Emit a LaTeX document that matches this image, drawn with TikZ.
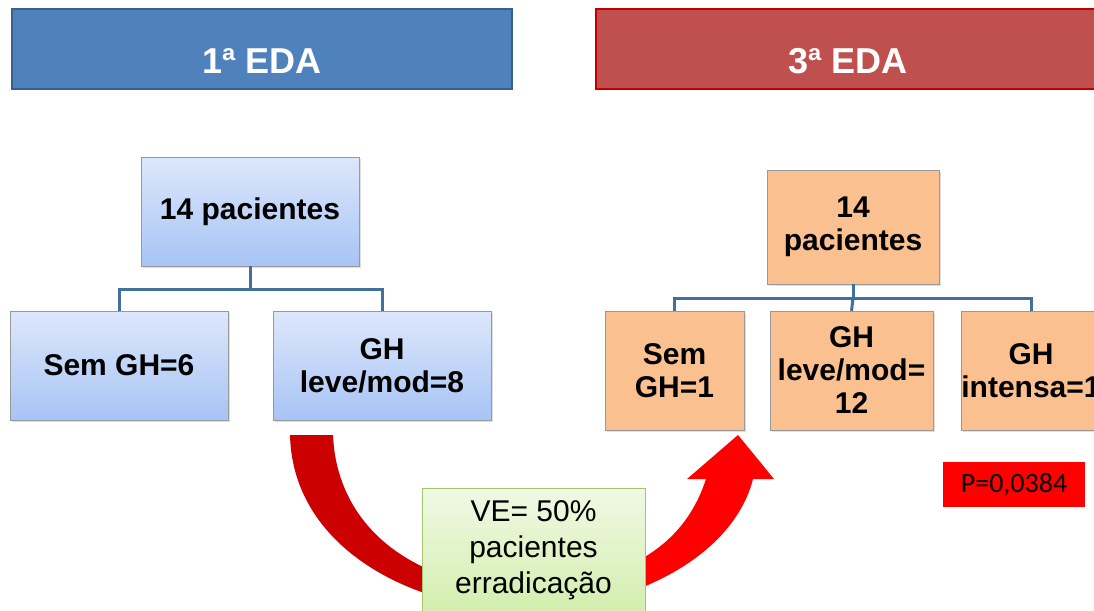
\documentclass[tikz,border=0pt]{standalone}
\usepackage{fontspec}
\setmainfont{Liberation Sans}
\newfontfamily\pfont{Carlito}
\usetikzlibrary{shadows}
\definecolor{hdrblue}{HTML}{4F81BD}
\definecolor{hdrblueline}{HTML}{3A5F8B}
\definecolor{hdrred}{HTML}{C0504D}
\definecolor{hdrredline}{HTML}{C00000}
\definecolor{boxtop}{HTML}{DDE7FB}
\definecolor{boxbot}{HTML}{A7C4F5}
\definecolor{peach}{HTML}{FAC090}
\definecolor{greentop}{HTML}{F0F9E4}
\definecolor{greenbot}{HTML}{D3EEAE}
\definecolor{greenline}{HTML}{A3C66A}
\definecolor{treeline}{HTML}{41709C}
\definecolor{darkarrow}{HTML}{CC0000}
\tikzset{
    header/.style={draw, line width=2pt, minimum height=80pt, text height=50pt, text depth=0pt,
        text=white, font=\fontsize{36}{40}\selectfont\bfseries},
    bluebox/.style={draw=gray!80, top color=boxtop, bottom color=boxbot, inner sep=0pt,
        align=center, font=\fontsize{30}{33}\selectfont\bfseries,
        drop shadow={opacity=0.25, shadow xshift=2pt, shadow yshift=-2pt}},
    peachbox/.style={draw=gray!80, fill=peach, inner sep=0pt,
        align=center, font=\fontsize{30}{33}\selectfont\bfseries,
        drop shadow={opacity=0.25, shadow xshift=2pt, shadow yshift=-2pt}},
    tree/.style={draw=treeline, line width=3pt},
}

\begin{document}
\begin{tikzpicture}[x=1pt, y=-1pt]
    \useasboundingbox (0,0) rectangle (1094,610);
    \clip (0,0) rectangle (1094,610);
    % headers
    \node[header, fill=hdrblue, draw=hdrblueline, minimum width=500pt] (hdrA) at (262,49) {1ª EDA};
    \node[header, fill=hdrred, draw=hdrredline, minimum width=504pt] (hdrB) at (848,49) {3ª EDA};
    % first exam
    \node[bluebox, minimum width=218pt, minimum height=109pt] (pacA) at (250,211.5) {14 pacientes};
    \node[bluebox, minimum width=218pt, minimum height=109pt] (semA) at (119,365.5) {Sem GH=6};
    \node[bluebox, minimum width=218pt, minimum height=109pt] (leveA) at (382,365.5) {GH\\leve/mod=8};
    \draw[tree] (pacA.south) -- ++(0,23) coordinate (splitA);
    \draw[tree] (semA.north) |- (splitA) -| (leveA.north);
    % third exam
    \node[peachbox, minimum width=172pt, minimum height=114pt] (pacB) at (853,227) {14\\pacientes};
    \node[peachbox, minimum width=139pt, minimum height=119pt] (semB) at (674.5,370.5) {Sem\\GH=1};
    \node[peachbox, minimum width=163pt, minimum height=119pt] (leveB) at (851.5,370.5) {GH\\leve/mod=\\12};
    \node[peachbox, minimum width=140pt, minimum height=119pt] (intB) at (1031,370.5) {GH\\intensa=1};
    \draw[tree] (pacB.south) -- ++(0,14) coordinate (splitB);
    \draw[tree] (semB.north) |- (splitB) -| (intB.north);
    \draw[tree] (splitB) -- (leveB.north);
    % curved arrow
    \fill[darkarrow] (290,435) -- (333,435)
        .. controls (336,505) and (380,552) .. (440,574)
        -- (440,598) .. controls (360,575) and (292,520) .. (290,435) -- cycle;
    \fill[red] (630,592) .. controls (692,570) and (740,530) .. (753,479)
        -- (774,479) -- (738,435) -- (687,479) -- (706,479)
        .. controls (692,522) and (665,548) .. (630,565) -- cycle;
    \node[draw=greenline, top color=greentop, bottom color=greenbot, minimum width=223pt,
        minimum height=124pt, inner sep=0pt, align=center,
        font=\fontsize{30}{36}\selectfont] (ve) at (533.5,550) {VE= 50\%\\pacientes\\erradicação};
    % p value
    \node[fill=red, minimum width=142pt, minimum height=45pt, inner sep=0pt,
        font=\pfont\fontsize{28}{30}\selectfont] (pval) at (1014,484.5) {P=0,0384};
\end{tikzpicture}
\end{document}
